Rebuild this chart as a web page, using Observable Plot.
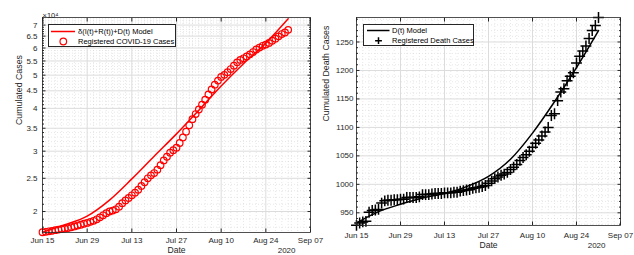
<!DOCTYPE html>
<html><head><meta charset="utf-8">
<script src="https://cdn.jsdelivr.net/npm/d3@7"></script>
<script src="https://cdn.jsdelivr.net/npm/@observablehq/plot@0.6"></script>
<style>
body{margin:0;background:#fff;font-family:"Liberation Sans",Arial,sans-serif;}
#wrap{position:relative;width:634px;height:255px;overflow:hidden;background:#fff}
.panel{position:absolute;top:0}
.panel svg{overflow:visible}
.legend{position:absolute;background:#fff;border:1px solid #262626;font-size:7.5px;color:#000;box-sizing:border-box;z-index:2}
.legend span{position:absolute;white-space:nowrap;transform:translateY(-50%);line-height:1}
.legend svg{position:absolute;left:-1px;top:-1px}
</style></head>
<body>
<div id="wrap">
  <div class="panel" id="left" style="left:0;width:320px"></div>
  <div class="panel" id="right" style="left:320px;width:314px"></div>
  <div class="legend" style="left:48px;top:24px;width:128px;height:23px">
    <svg width="128" height="23"><line x1="3" x2="27" y1="7.5" y2="7.5" stroke="#ff0000" stroke-width="1.5"/><circle cx="15.3" cy="17.5" r="3.3" fill="none" stroke="#ff0000" stroke-width="1.2"/></svg>
    <span style="left:29px;top:6.5px">δ(I(t)+R(t))+D(t) Model</span>
    <span style="left:29px;top:16.5px">Registered COVID-19 Cases</span>
  </div>
  <div class="legend" style="left:363px;top:24px;width:111px;height:22px">
    <svg width="111" height="22"><line x1="4" x2="26.5" y1="6.5" y2="6.5" stroke="#000" stroke-width="1.5"/><path d="M15.5,13.3V20.1M12.1,16.7H18.9" stroke="#000" stroke-width="1.5"/></svg>
    <span style="left:28px;top:5.5px">D(t) Model</span>
    <span style="left:28px;top:15.8px">Registered Death Cases</span>
  </div>
</div>
<script>
// ---- data ----
const startDate = new Date("2020-06-15");
const dayDates = d3.utcDay.range(startDate, new Date("2020-09-01")); // Jun 15 .. Aug 31
const registeredCases = [
  17400,17450,17510,17570,17640,17710,17770,17830,17890,17990,18090,18200,18300,18420,18530,18660,
  18790,18980,19230,19500,19780,20000,20130,20300,20660,21150,21550,21900,22300,22700,23150,23750,
  24350,25000,25500,25900,26500,27300,28200,28900,29700,30200,30700,31700,32900,34200,35700,
  37200,38500,39700,41000,42400,43900,45400,46900,48200,49400,50100,51000,52100,53300,54500,55400,
  56000,56700,57500,58400,59400,60200,60900,61400,62100,63000,63900,64900,65900,66600,67800
];
const registeredDeaths = [
  928,932,934,935,951,954,955,956,967,971,972,972,973,973,974,974,
  977,977,977,977,978,982,982,982,983,984,984,984,985,985,985,986,986,988,989,990,991,993,994,995,996,998,1002,1006,1010,1013,1016,
  1018,1021,1026,1030,1035,1042,1047,1052,1058,1065,1072,1078,1085,1092,1100,1121,1124,1147,1162,1168,1182,1190,1196,1213,1225,1234,1243,1256,1270,1279,1293
];
const modelDates = ["2020-06-15","2020-06-22","2020-06-29","2020-07-06","2020-07-13","2020-07-20","2020-07-27","2020-08-03","2020-08-10","2020-08-17","2020-08-24","2020-08-31"];
const modelCases = [17400,18300,19400,21600,24900,29000,33700,39500,46500,54000,62000,73000];
const modelDeaths = [932,952,965,976,984,996,1014,1044,1090,1145,1205,1270];

const xTickDates = ["2020-06-15","2020-06-29","2020-07-13","2020-07-27","2020-08-10","2020-08-24","2020-09-07"];
const yTicksCases = [20000,25000,30000,35000,40000,45000,50000,55000,60000,65000,70000];
const yTicksDeaths = [950,1000,1050,1100,1150,1200,1250];

// ---- derived tables ----
const xTicks = xTickDates.map(d => new Date(d));
const casesData = dayDates.map((d, i) => ({date: d, value: registeredCases[i]}));
const deathsData = dayDates.map((d, i) => ({date: d, value: registeredDeaths[i]}));
const modelCasesData = modelDates.map((d, i) => ({date: new Date(d), value: modelCases[i]}));
const modelDeathsData = modelDates.map((d, i) => ({date: new Date(d), value: modelDeaths[i]}));
const xMinor = d3.utcDay.every(2).range(new Date("2020-06-15"), new Date("2020-09-07")).filter(d => !xTicks.some(t => +t === +d));
const yMinorCases = d3.range(18000, 74000, 1000).filter(v => !yTicksCases.includes(v));
const yMinorDeaths = d3.range(930, 1300, 10).filter(v => !yTicksDeaths.includes(v));
const fmt = d3.utcFormat("%b %d");
const xDomain = [new Date("2020-06-15"), new Date("2020-09-07")];
const ink = "#262626";
const font = "Liberation Sans, Arial, sans-serif";

function panel({width, margins, yScale, yTicks, yMinor, yFmt, series, model, color, marker, yLabel, labelDx, bottomPad, leftPad, dateDy, extra}) {
  return Plot.plot({
    width, height: 255,
    marginLeft: margins[0], marginRight: margins[1], marginTop: margins[2], marginBottom: margins[3],
    style: {fontFamily: font, fontSize: "8px", overflow: "visible", background: "transparent", color: ink},
    x: {type: "utc", domain: xDomain},
    y: yScale,
    marks: [
      Plot.gridX(xMinor, {stroke: "#cfcfcf", strokeOpacity: 1, strokeWidth: 0.5, strokeDasharray: "1,2"}),
      Plot.gridY(yMinor, {stroke: "#cfcfcf", strokeOpacity: 1, strokeWidth: 0.5, strokeDasharray: "1,2"}),
      Plot.gridX(xTicks, {stroke: "#dcdcdc", strokeOpacity: 1, strokeWidth: 1}),
      Plot.gridY(yTicks, {stroke: "#dcdcdc", strokeOpacity: 1, strokeWidth: 1}),
      Plot.line(model, {x: "date", y: "value", stroke: color, strokeWidth: 1.5, curve: "monotone-x", clip: true}),
      marker === "circle"
        ? Plot.dot(series, {x: "date", y: "value", r: 3.3, stroke: color, strokeWidth: 1.2, fill: "none"})
        : Plot.dot(series, {x: "date", y: "value", symbol: "plus", r: 3.6, stroke: color, strokeWidth: 1.5}),
      Plot.frame({stroke: ink, strokeWidth: 0.8}),
      Plot.axisX(xTicks, {anchor: "bottom", tickSize: -3.5, tickPadding: bottomPad, tickFormat: fmt, label: null, stroke: ink, fill: ink}),
      Plot.axisX(xTicks, {anchor: "top", tickSize: -3.5, tickFormat: () => "", label: null, stroke: ink}),
      Plot.axisY(yTicks, {anchor: "left", tickSize: -3.5, tickPadding: leftPad, tickFormat: yFmt, label: null, stroke: ink, fill: ink}),
      Plot.axisY(yTicks, {anchor: "right", tickSize: -3.5, tickFormat: () => "", label: null, stroke: ink}),
      Plot.axisY(yMinor, {anchor: "left", tickSize: -2, tickFormat: () => "", label: null, stroke: ink}),
      Plot.axisY(yMinor, {anchor: "right", tickSize: -2, tickFormat: () => "", label: null, stroke: ink}),
      Plot.text(["Date"], {frameAnchor: "bottom", dy: dateDy, fontSize: 8.6, fill: ink}),
      Plot.text(["2020"], {frameAnchor: "bottom-right", dx: -15, dy: dateDy, fontSize: 8, fill: ink}),
      Plot.text([yLabel], {frameAnchor: "left", rotate: -90, dx: labelDx, fontSize: 8.8, fill: ink}),
      ...(extra || [])
    ]
  });
}

document.getElementById("left").append(panel({
  width: 320, margins: [42, 10, 17, 23],
  yScale: {type: "log", domain: [17370, 73660]},
  yTicks: yTicksCases, yMinor: yMinorCases, yFmt: d => d / 1e4,
  series: casesData, model: modelCasesData, color: "#ff0000", marker: "circle",
  yLabel: "Cumulated Cases", labelDx: -23.5, bottomPad: 8.5, leftPad: 8.5, dateDy: 20.5,
  extra: [Plot.text(["×10⁴"], {frameAnchor: "top-left", textAnchor: "start", dy: -5, fontSize: 7.5, fill: ink})]
}));

document.getElementById("right").append(panel({
  width: 314, margins: [36, 14, 17, 30],
  yScale: {type: "linear", domain: [927.7, 1293]},
  yTicks: yTicksDeaths, yMinor: yMinorDeaths, yFmt: d3.format("d"),
  series: deathsData, model: modelDeathsData, color: "#000000", marker: "plus",
  yLabel: "Cumulated Death Cases", labelDx: -30, bottomPad: 10, leftPad: 6.5, dateDy: 22
}));
</script>
</body></html>
